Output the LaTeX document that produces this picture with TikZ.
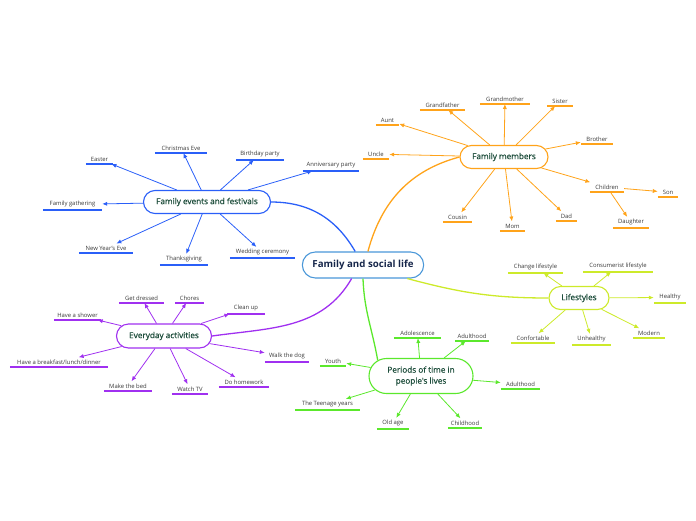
\documentclass[tikz,border=0pt]{standalone}
\usepackage{fontspec}
\setmainfont{Open Sans}
\newfontfamily\hubfont{Open Sans}[FakeBold=0.6]
\usetikzlibrary{shapes.misc,arrows.meta}

\definecolor{mainblue}{HTML}{4A97D8}
\definecolor{maintext}{HTML}{16264A}
\definecolor{hubtext}{HTML}{1D4D3B}
\definecolor{leaftext}{HTML}{3A3A3A}
\definecolor{evblue}{HTML}{2A5FF8}
\definecolor{famorange}{HTML}{FFA31A}
\definecolor{dayviolet}{HTML}{A030F0}
\definecolor{lifelime}{HTML}{CDEA2A}
\definecolor{periodgreen}{HTML}{5BE82C}

\tikzset{
  hub/.style={rounded rectangle, draw=#1, line width=1.1pt, fill=white, text=hubtext,
    font=\hubfont\fontsize{8.2}{11}\selectfont, inner xsep=2pt},
  leaf/.style={anchor=south, inner xsep=0pt, inner ysep=2.4pt, text=leaftext,
    font=\fontsize{5.9}{7}\selectfont,
    append after command={(\tikzlastnode.south west) edge[draw=#1, line width=1.6pt] (\tikzlastnode.south east)}},
  arr/.style={-{Latex[length=5pt,width=4.2pt]}, line width=0.8pt},
  link/.style={line width=1.3pt},
}

\begin{document}
\begin{tikzpicture}[x=1pt,y=-1pt]
  \useasboundingbox (0,0) rectangle (696,520);

  % central topic and main branches
  \node[rounded rectangle, draw=mainblue, line width=1.1pt, minimum width=128pt, minimum height=26pt,
    text=maintext, font=\fontsize{9.7}{11}\bfseries] (main) at (363,265) {Family and social life};
  \node[hub=evblue, minimum width=131pt, minimum height=23pt] (events) at (207,202) {Family events and festivals};
  \node[hub=famorange, minimum width=92pt, minimum height=23pt] (members) at (504,157) {Family members};
  \node[hub=dayviolet, minimum width=99pt, minimum height=24pt] (everyday) at (164,336) {Everyday activities};
  \node[hub=lifelime, minimum width=64pt, minimum height=23pt] (lifestyles) at (579,298) {Lifestyles};
  \node[hub=periodgreen, minimum width=108pt, minimum height=35pt, align=center] (periods) at (421,376) {Periods of time in\\people's lives};

  % family events and festivals
  \node[leaf=evblue, minimum width=27pt] (easter) at (99.5,164) {Easter};
  \node[leaf=evblue, minimum width=52pt] (xmas) at (181,153) {Christmas Eve};
  \node[leaf=evblue, minimum width=48pt] (bday) at (260,160) {Birthday party};
  \node[leaf=evblue, minimum width=56pt] (anniv) at (331,171) {Anniversary party};
  \node[leaf=evblue, minimum width=59pt] (gather) at (72.5,210) {Family gathering};
  \node[leaf=evblue, minimum width=54pt] (newyear) at (106,253) {New Year's Eve};
  \node[leaf=evblue, minimum width=48pt] (thanks) at (184,265) {Thanksgiving};
  \node[leaf=evblue, minimum width=65pt] (wedding) at (262.5,258) {Wedding ceremony};

  % family members
  \node[leaf=famorange, minimum width=23pt] (aunt) at (387.5,125) {Aunt};
  \node[leaf=famorange, minimum width=45pt] (grandfa) at (442.5,110) {Grandfather};
  \node[leaf=famorange, minimum width=50pt] (grandmo) at (505,104) {Grandmother};
  \node[leaf=famorange, minimum width=26pt] (sister) at (560,106) {Sister};
  \node[leaf=famorange, minimum width=32pt] (brother) at (597,144) {Brother};
  \node[leaf=famorange, minimum width=26pt] (uncle) at (376,159) {Uncle};
  \node[leaf=famorange, minimum width=34pt] (children) at (607,192) {Children};
  \node[leaf=famorange, minimum width=20pt] (son) at (668,197) {Son};
  \node[leaf=famorange, minimum width=36pt] (daughter) at (631,228) {Daughter};
  \node[leaf=famorange, minimum width=29pt] (cousin) at (457.5,222) {Cousin};
  \node[leaf=famorange, minimum width=25pt] (mom) at (512.5,231) {Mom};
  \node[leaf=famorange, minimum width=21pt] (dad) at (566.5,221) {Dad};

  % everyday activities
  \node[leaf=dayviolet, minimum width=47pt] (shower) at (77.5,320) {Have a shower};
  \node[leaf=dayviolet, minimum width=45pt] (dressed) at (141.5,303) {Get dressed};
  \node[leaf=dayviolet, minimum width=29pt] (chores) at (189.5,303) {Chores};
  \node[leaf=dayviolet, minimum width=38pt] (cleanup) at (246,314) {Clean up};
  \node[leaf=dayviolet, minimum width=98pt] (meals) at (59,367) {Have a breakfast/lunch/dinner};
  \node[leaf=dayviolet, minimum width=44pt] (dog) at (287,362) {Walk the dog};
  \node[leaf=dayviolet, minimum width=48pt] (bed) at (128,391) {Make the bed};
  \node[leaf=dayviolet, minimum width=36pt] (tv) at (190,394) {Watch TV};
  \node[leaf=dayviolet, minimum width=50pt] (homework) at (244,387) {Do homework};

  % lifestyles
  \node[leaf=lifelime, minimum width=55pt] (change) at (535.5,273) {Change lifestyle};
  \node[leaf=lifelime, minimum width=70pt] (consumer) at (618,272) {Consumerist lifestyle};
  \node[leaf=lifelime, minimum width=32pt] (healthy) at (670,303) {Healthy};
  \node[leaf=lifelime, minimum width=44pt] (confort) at (533,343) {Confortable};
  \node[leaf=lifelime, minimum width=39pt] (unhealthy) at (591.5,345) {Unhealthy};
  \node[leaf=lifelime, minimum width=32pt] (modern) at (649,338) {Modern};

  % periods of time
  \node[leaf=periodgreen, minimum width=47pt] (adolesc) at (417.5,338) {Adolescence};
  \node[leaf=periodgreen, minimum width=34pt] (adulttop) at (472,341) {Adulthood};
  \node[leaf=periodgreen, minimum width=26pt] (youth) at (333,366) {Youth};
  \node[leaf=periodgreen, minimum width=39pt] (adultright) at (520.5,389) {Adulthood};
  \node[leaf=periodgreen, minimum width=65pt] (teen) at (327.5,410) {The Teenage years};
  \node[leaf=periodgreen, minimum width=32pt] (oldage) at (393,429) {Old age};
  \node[leaf=periodgreen, minimum width=34pt] (childhood) at (465,428) {Childhood};

  % branches from the centre
  \draw[link, evblue] (main.120) to[out=120, in=0] (events.east);
  \draw[link, famorange] (main.70) to[out=75, in=195] (members.west);
  \draw[link, dayviolet] (main.-130) to[out=-120, in=8] (everyday.east);
  \draw[link, lifelime] (main.-17) to[out=-15, in=180] (lifestyles.west);
  \draw[link, periodgreen] (main.-90) to[out=-88, in=100] (periods.160);

  % sub-topics
  \draw[arr, evblue] (events) edge (easter) edge (xmas) edge (bday) edge (anniv)
    edge (gather) edge (newyear) edge (thanks) edge (wedding);
  \draw[arr, famorange] (members) edge (aunt) edge (grandfa) edge (grandmo) edge (sister)
    edge (brother) edge (uncle) edge (children) edge (cousin) edge (mom) edge (dad);
  \draw[arr, famorange] (children) edge (son) edge (daughter);
  \draw[arr, dayviolet] (everyday) edge (shower) edge (dressed) edge (chores) edge (cleanup)
    edge (meals) edge (dog) edge (bed) edge (tv) edge (homework);
  \draw[arr, lifelime] (lifestyles) edge (change) edge (consumer) edge (healthy)
    edge (confort) edge (unhealthy) edge (modern);
  \draw[arr, periodgreen] (periods) edge (adolesc) edge (adulttop) edge (youth)
    edge (adultright) edge (teen) edge (oldage) edge (childhood);
\end{tikzpicture}
\end{document}
